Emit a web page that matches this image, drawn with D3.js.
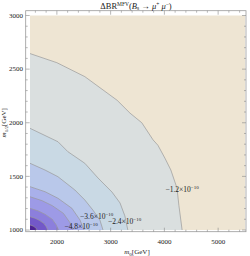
<!DOCTYPE html>
<html>
<head>
<meta charset="utf-8">
<script src="https://d3js.org/d3.v7.min.js"></script>
<style>
body { margin: 0; background: #fff; }
text { font-family: "Liberation Serif", "DejaVu Serif", serif; fill: #222; }
</style>
</head>
<body>
<script>
// contour lines, [m0, m12] in GeV (outer -> inner)
var levels = ["\u22121.2", "\u22122.4", "\u22123.6", "\u22124.8", "\u22126.0", "\u22127.2", "\u22128.4", "\u22129.6"];
var c1 = [[1500,2645],[2000,2560],[2520,2430],[3120,2210],[3360,2090],[3580,2000],[3790,1840],[3880,1790],[4010,1670],[4120,1560],[4235,1390],[4270,1230],[4330,1000]];
var c2 = [[1500,1948],[2020,1823],[2205,1730],[2520,1622],[2765,1485],[3025,1354],[3175,1252],[3265,1131],[3320,1000]];
var c3 = [[1500,1622],[1780,1559],[2020,1497],[2335,1373],[2520,1280],[2670,1186],[2800,1093],[2858,1000]];
var c4 = [[1500,1404],[1780,1357],[2020,1296],[2280,1202],[2430,1093],[2505,1000]];
var c5 = [[1500,1310],[1722,1274],[1914,1227],[2122,1155],[2240,1071],[2300,1000]];
var c6 = [[1500,1202],[1647,1179],[1775,1148],[1912,1101],[1990,1046],[2030,1000]];
var c7 = [[1500,1124],[1592,1110],[1671,1091],[1756,1062],[1805,1029],[1830,1000]];
var c8 = [[1500,1047],[1536,1042],[1567,1034],[1601,1023],[1620,1011],[1630,1000]];
var contours = [c1, c2, c3, c4, c5, c6, c7, c8];
var bandColors = ["#eee5d3", "#dadfdf", "#c9d9e4", "#b9c8ea", "#a9b0ea", "#9d9ae6", "#8c7fdc", "#7358c8", "#4e2394"];

// contour labels: level index, position [m0, m12]
var labels = [[0, 4330, 1380], [1, 3260, 1080], [2, 2740, 1130], [3, 2450, 1030]];

var xTicks = [2000, 3000, 4000, 5000];
var yTicks = [1000, 1500, 2000, 2500, 3000];

var W = 250, H = 256;
var svg = d3.select("body").append("svg").attr("width", W).attr("height", H);

var x = d3.scaleLinear().domain([1500, 5500]).range([30, 245]);
var y = d3.scaleLinear().domain([1000, 3000]).range([230, 15.5]);

var line = d3.line().x(function(d) { return x(d[0]); }).y(function(d) { return y(d[1]); });

// background band
svg.append("rect")
    .attr("x", x(1500)).attr("y", y(3000))
    .attr("width", x(5500) - x(1500)).attr("height", y(1000) - y(3000))
    .attr("fill", bandColors[0]);

// filled bands, nested toward the lower-left corner
contours.forEach(function(c, i) {
  svg.append("path")
      .attr("d", line(c.concat([[1500, 1000]])) + "Z")
      .attr("fill", bandColors[i + 1]);
});
contours.forEach(function(c) {
  svg.append("path")
      .attr("d", line(c))
      .attr("fill", "none")
      .attr("stroke", "#9a9a9a")
      .attr("stroke-width", 0.7);
});

// frame
var fx0 = 25.7, fx1 = 246, fy0 = 10.7, fy1 = 231.7;
svg.append("rect")
    .attr("x", fx0).attr("y", fy0)
    .attr("width", fx1 - fx0).attr("height", fy1 - fy0)
    .attr("fill", "none").attr("stroke", "#999").attr("stroke-width", 0.8);

var xMinor = d3.range(1600, 5500, 200).filter(function(v) { return v % 1000 != 0; });
var yMinor = d3.range(1100, 3000, 100).filter(function(v) { return v % 500 != 0; });

var g = svg.append("g").attr("stroke", "#888").attr("stroke-width", 0.6);
function xTick(v, len) {
  g.append("line").attr("x1", x(v)).attr("x2", x(v)).attr("y1", fy1).attr("y2", fy1 - len);
  g.append("line").attr("x1", x(v)).attr("x2", x(v)).attr("y1", fy0).attr("y2", fy0 + len);
}
function yTick(v, len) {
  g.append("line").attr("y1", y(v)).attr("y2", y(v)).attr("x1", fx0).attr("x2", fx0 + len);
  g.append("line").attr("y1", y(v)).attr("y2", y(v)).attr("x1", fx1).attr("x2", fx1 - len);
}
xTicks.forEach(function(v) { xTick(v, 4); });
xMinor.forEach(function(v) { xTick(v, 2); });
yTicks.forEach(function(v) { yTick(v, 4); });
yMinor.forEach(function(v) { yTick(v, 2); });

svg.selectAll(".xl").data(xTicks).enter().append("text")
    .attr("x", function(d) { return x(d); }).attr("y", 244)
    .attr("text-anchor", "middle").attr("font-size", 7)
    .text(function(d) { return d; });
svg.selectAll(".yl").data(yTicks).enter().append("text")
    .attr("x", 23).attr("y", function(d) { return y(d) + 2.3; })
    .attr("text-anchor", "end").attr("font-size", 7)
    .text(function(d) { return d; });

// contour labels
labels.forEach(function(l) {
  var t = svg.append("text")
      .attr("x", x(l[1])).attr("y", y(l[2]) + 2.5)
      .attr("text-anchor", "middle").attr("font-size", 7.5);
  t.append("tspan").text(levels[l[0]] + "\u00d710");
  t.append("tspan").attr("dy", -3).attr("font-size", 5).text("\u221210");
});

// title
var title = svg.append("text").attr("x", 136).attr("y", 8.5)
    .attr("text-anchor", "middle").attr("font-size", 8.5);
title.append("tspan").text("\u0394BR");
title.append("tspan").attr("dy", -3).attr("font-size", 5.5).text("MFV");
title.append("tspan").attr("dy", 3).text("(");
title.append("tspan").attr("font-style", "italic").text("B");
title.append("tspan").attr("dy", 1.5).attr("font-size", 5.5).text("s");
title.append("tspan").attr("dy", -1.5).text(" \u2192 ");
title.append("tspan").attr("font-style", "italic").text("\u03bc");
title.append("tspan").attr("dy", -3).attr("font-size", 5.5).text("+");
title.append("tspan").attr("dy", 3).attr("font-style", "italic").text(" \u03bc");
title.append("tspan").attr("dy", -3).attr("font-size", 5.5).text("\u2212");
title.append("tspan").attr("dy", 3).text(")");

// axis titles
var xt = svg.append("text").attr("x", 137).attr("y", 254)
    .attr("text-anchor", "middle").attr("font-size", 7);
xt.append("tspan").attr("font-style", "italic").text("m");
xt.append("tspan").attr("dy", 1.5).attr("font-size", 5).text("0");
xt.append("tspan").attr("dy", -1.5).text("[GeV]");

var yt = svg.append("text")
    .attr("transform", "translate(6," + y(2000) + ") rotate(-90)")
    .attr("text-anchor", "middle").attr("font-size", 7);
yt.append("tspan").attr("font-style", "italic").text("m");
yt.append("tspan").attr("dy", 1.5).attr("font-size", 5).text("1/2");
yt.append("tspan").attr("dy", -1.5).text("[GeV]");
</script>
</body>
</html>
